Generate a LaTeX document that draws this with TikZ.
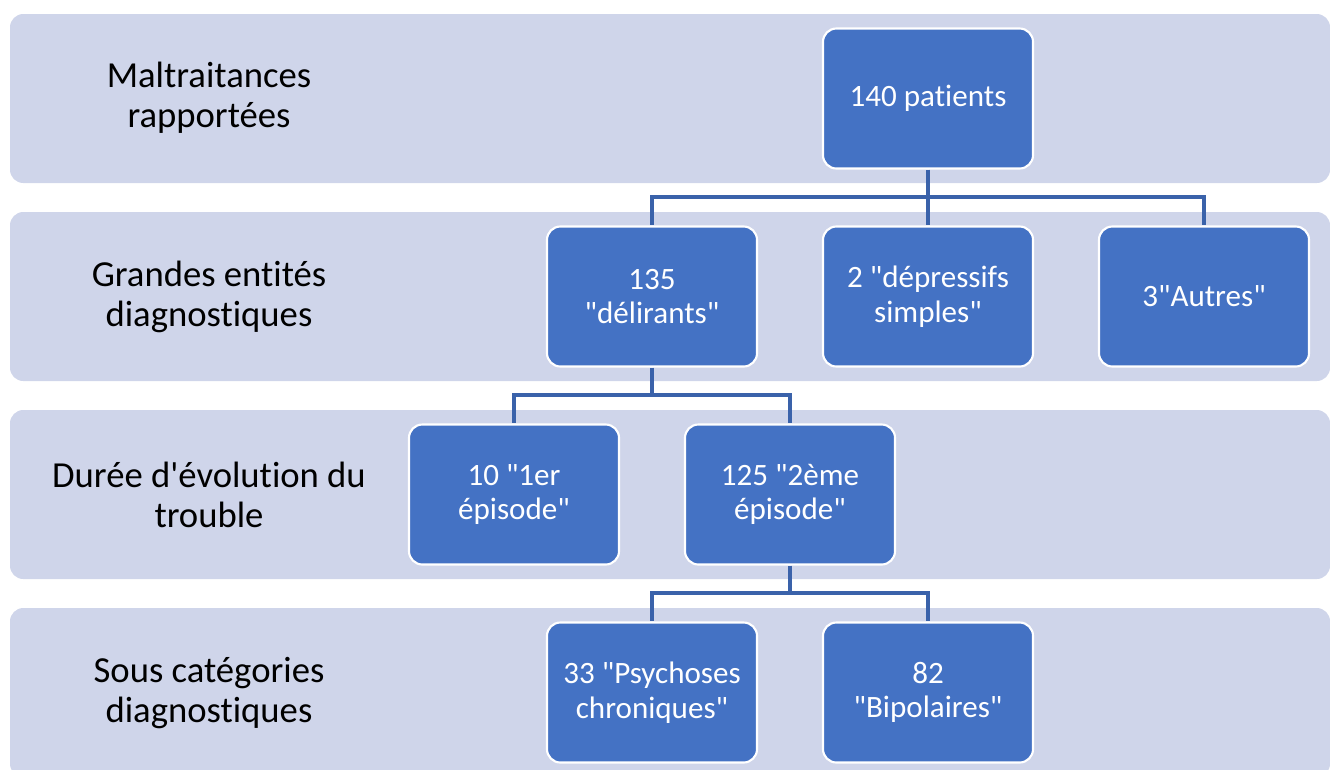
\documentclass[tikz,border=0pt]{standalone}
\usepackage{fontspec}
\setmainfont{Carlito}[Ligatures={TeXOff,NoCommon}]
\definecolor{bandc}{HTML}{CFD5EA}
\definecolor{boxc}{HTML}{4472C4}
\definecolor{linec}{HTML}{3A62AA}
\begin{document}
\begin{tikzpicture}[x=0.75pt,y=-0.75pt,
  band/.style={fill=bandc, rounded corners=10pt},
  lbl/.style={align=center, text=black, font=\fontsize{27.5}{30}\selectfont},
  box/.style={draw=white, line width=1.6pt, fill=boxc, rounded corners=10pt,
    minimum width=157.5pt, minimum height=105pt, inner sep=2pt, text=white,
    align=center, font=\fontsize{23.3}{26}\selectfont},
  conn/.style={draw=linec, line width=2.3pt}]
\useasboundingbox (0,0) rectangle (1330,769);
\begin{scope}
\clip (0,0) rectangle (1330,769);
\fill[band] (10,14) rectangle (1330,183);
\fill[band] (10,212) rectangle (1330,381);
\fill[band] (10,410) rectangle (1330,579);
\fill[band] (10,608) rectangle (1330,777);
\end{scope}
\node[lbl] (l1) at (209,98) {Maltraitances\\rapportées};
\node[lbl] (l2) at (209,297) {Grandes entités\\diagnostiques};
\node[lbl] (l3) at (209,495) {Durée d'évolution du\\trouble};
\node[lbl] (l4) at (209,693) {Sous catégories\\diagnostiques};
\node[box] (p) at (928,98.5) {140 patients};
\node[box] (d1) at (652,296.5) {135\\"délirants"};
\node[box] (d2) at (928,296.5) {2 "dépressifs\\simples"};
\node[box] (d3) at (1204,296.5) {3"Autres"};
\node[box] (e1) at (514,494.5) {10 "1er\\épisode"};
\node[box] (e2) at (790,494.5) {125 "2ème\\épisode"};
\node[box] (s1) at (652,692.5) {33 "Psychoses\\chroniques"};
\node[box] (s2) at (928,692.5) {82\\"Bipolaires"};
\coordinate (j1) at (928,197);
\coordinate (j2) at (652,395);
\coordinate (j3) at (790,593);
\draw[conn] (p.south) -- (j1);
\draw[conn] (j1) -| (d1.north);
\draw[conn] (j1) -- (d2.north);
\draw[conn] (j1) -| (d3.north);
\draw[conn] (d1.south) -- (j2);
\draw[conn] (j2) -| (e1.north);
\draw[conn] (j2) -| (e2.north);
\draw[conn] (e2.south) -- (j3);
\draw[conn] (j3) -| (s1.north);
\draw[conn] (j3) -| (s2.north);
\end{tikzpicture}
\end{document}
